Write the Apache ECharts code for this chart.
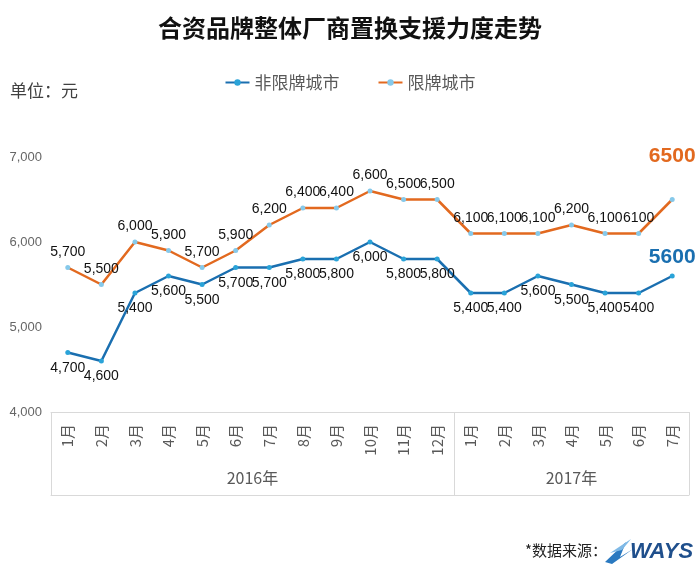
<!DOCTYPE html>
<html><head><meta charset="utf-8">
<script src="https://cdn.jsdelivr.net/npm/echarts@6/dist/echarts.min.js"></script>
<style>html,body{margin:0;padding:0;background:#fff}#c{width:700px;height:573px}</style>
</head><body><div id="c"></div>
<script>
var months = ['1月','2月','3月','4月','5月','6月','7月','8月','9月','10月','11月','12月','1月','2月','3月','4月','5月','6月','7月'];
var years = ['2016年','2017年'];
var yearSpans = [12, 7];
var nonLimited = [4700,4600,5400,5600,5500,5700,5700,5800,5800,6000,5800,5800,5400,5400,5600,5500,5400,5400,5600];
var limited = [5700,5500,6000,5900,5700,5900,6200,6400,6400,6600,6500,6500,6100,6100,6100,6200,6100,6100,6500];
var yTicks = [4000,5000,6000,7000];

var FONT = '"Liberation Sans", Arial, "Noto Sans CJK SC", sans-serif';
var CJK = '"Noto Sans CJK SC", "Liberation Sans", sans-serif';
var BLUE = '#1a6fb0', ORANGE = '#e2691f';

function fmt(v, i) {
  if (i === 17) return String(v);
  return v.toLocaleString('en-US');
}
function buildData(vals, color, lastOffset) {
  return vals.map(function (v, i) {
    if (i === vals.length - 1) {
      return { value: v, label: { position: 'top', distance: lastOffset, color: color, fontSize: 21, fontWeight: 'bold', formatter: String(v) } };
    }
    return { value: v, label: { formatter: fmt(v, i) } };
  });
}
var yearCenters = [];
var acc = 0;
yearSpans.forEach(function (s) { yearCenters.push(acc + s / 2); acc += s; });
var yearBounds = [0]; acc = 0;
yearSpans.forEach(function (s) { acc += s; yearBounds.push(acc); });

var chart = echarts.init(document.getElementById('c'));
chart.setOption({
  backgroundColor: '#fff',
  title: { text: '合资品牌整体厂商置换支援力度走势', left: 'center', top: 11,
    textStyle: { fontFamily: CJK, fontSize: 24, fontWeight: 'bold', color: '#111' } },
  legend: { top: 69, left: 'center', itemGap: 38, itemWidth: 24, itemHeight: 8,
    textStyle: { fontFamily: CJK, fontSize: 17, color: '#595959' },
    data: ['非限牌城市', '限牌城市'] },
  graphic: [
    { type: 'text', left: 10, top: 82, style: { text: '单位：元', font: '17px ' + CJK, fill: '#404040' } },
    { type: 'text', left: 525, top: 543, style: { text: '*数据来源：', font: '15px ' + CJK, fill: '#222' } },
    { type: 'text', left: 630, top: 541, style: { text: 'WAYS', font: 'italic bold 22px "Liberation Sans", Arial, sans-serif', fill: '#1f4f8c' } },
    { type: 'polygon', shape: { points: [[605,562],[626,542],[620,557],[633,549],[612,564]] }, style: { fill: '#2a79c0' } },
    { type: 'polygon', shape: { points: [[610,553],[631,539],[622,550]] }, style: { fill: '#7fb9e6' } }
  ],
  grid: { left: 51, right: 11, top: 157, bottom: 161, containLabel: false },
  xAxis: [
    { type: 'category', data: months, boundaryGap: true,
      axisLine: { show: true, lineStyle: { color: '#d9d9d9', width: 1 } },
      axisTick: { show: false },
      axisLabel: { rotate: 90, margin: 12, fontSize: 15, color: '#595959', fontFamily: CJK, interval: 0 } },
    { type: 'value', min: 0, max: months.length, position: 'bottom', offset: 83,
      splitLine: { show: false },
      axisLine: { show: true, lineStyle: { color: '#d9d9d9', width: 1 } },
      axisTick: { show: true, inside: true, length: 83, customValues: yearBounds, lineStyle: { color: '#d9d9d9', width: 1 } },
      axisLabel: { show: true, margin: -25, customValues: yearCenters, fontSize: 16, color: '#595959', fontFamily: CJK,
        formatter: function (v) { var k = yearCenters.indexOf(v); return k >= 0 ? years[k] : ''; } } }
  ],
  yAxis: { type: 'value', min: yTicks[0], max: yTicks[yTicks.length - 1], interval: 1000,
    splitLine: { show: false }, axisLine: { show: false }, axisTick: { show: false },
    axisLabel: { margin: 9, fontSize: 13, color: '#666', fontFamily: FONT,
      formatter: function (v) { return v.toLocaleString('en-US'); } } },
  series: [
    { name: '非限牌城市', type: 'line', data: buildData(nonLimited, BLUE, 6),
      symbol: 'circle', symbolSize: 5, showAllSymbol: true,
      lineStyle: { color: BLUE, width: 2.5 }, itemStyle: { color: '#2aa3d8', borderWidth: 0 },
      label: { show: true, position: 'bottom', distance: 6, fontSize: 14, color: '#111', fontFamily: FONT } },
    { name: '限牌城市', type: 'line', data: buildData(limited, ORANGE, 30),
      symbol: 'circle', symbolSize: 5, showAllSymbol: true,
      lineStyle: { color: ORANGE, width: 2.5 }, itemStyle: { color: '#86c9ea', borderWidth: 0 },
      label: { show: true, position: 'top', distance: 6, fontSize: 14, color: '#111', fontFamily: FONT } }
  ]
});
</script></body></html>
